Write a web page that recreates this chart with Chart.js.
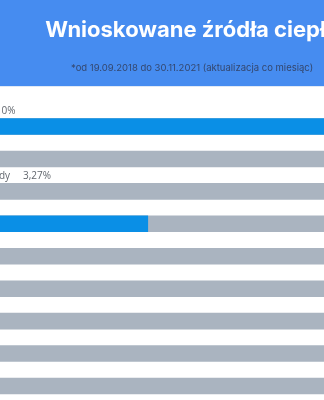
<!DOCTYPE html>
<html lang="pl">
<head>
<meta charset="utf-8">
<title>Wnioskowane źródła ciepła</title>
<script src="https://cdn.jsdelivr.net/npm/chart.js@4/dist/chart.umd.min.js"></script>
<style>
  html, body { margin: 0; padding: 0; background: #fff; overflow: hidden; width: 324px; height: 400px; }
  #wrap { position: absolute; left: -188px; top: 0; width: 760px; height: 404px; }
</style>
</head>
<body>
<div id="wrap"><canvas id="chart"></canvas></div>
<script>
// Heat sources requested in applications and their share (%)
const categories = [
  'Kocioł gazowy kondensacyjny',
  'Ogrzewanie elektryczne',
  'Pompa ciepła dla przygotowania wody',
  'Pompa ciepła',
  'Kocioł na pellet drzewny',
  'Kocioł zgazowujący drewno',
  'Sieć ciepłownicza',
  'Kocioł olejowy',
  'Kocioł na biomasę'
];
const shares = [45.10, 6.84, 3.27, 19.80, 9.12, 5.46, 4.38, 1.75, 1.21];
const shareLabels = shares.map(v => v.toFixed(2).replace('.', ',') + '%');
const titleText = 'Wnioskowane źródła ciepła';
const subtitleText = '*od 19.09.2018 do 30.11.2021 (aktualizacja co miesiąc)';

const maxShare = Math.max(...shares);
const trackValues = categories.map(() => maxShare);

const HEADER_BLUE = '#468cf0';
const BAR_BLUE = '#0a8fe6';
const TRACK_GREY = '#aab4c0';

// blue header band behind title and subtitle
const headerBand = {
  id: 'headerBand',
  beforeDraw(chart) {
    const { ctx, width } = chart;
    ctx.save();
    ctx.fillStyle = HEADER_BLUE;
    ctx.fillRect(0, 0, width, 86);
    ctx.fillStyle = '#dfe9f6';
    ctx.fillRect(0, 86, width, 1);
    ctx.restore();
  }
};

// name + percentage written above each bar
const rowLabels = {
  id: 'rowLabels',
  afterDatasetsDraw(chart) {
    const { ctx, chartArea } = chart;
    const meta = chart.getDatasetMeta(1);
    ctx.save();
    ctx.font = '10px "Open Sans", sans-serif';
    ctx.fillStyle = '#62676e';
    ctx.textBaseline = 'middle';
    ctx.textAlign = 'left';
    meta.data.forEach((bar, i) => {
      const y = bar.y - bar.height / 2 - 7;
      const x = chartArea.left;
      ctx.fillText(categories[i], x, y);
      const w = ctx.measureText(categories[i]).width;
      ctx.fillText(shareLabels[i], x + w + 13, y);
    });
    ctx.restore();
  }
};

new Chart(document.getElementById('chart'), {
  type: 'bar',
  data: {
    labels: categories,
    datasets: [
      {
        label: 'Udział',
        data: shares,
        backgroundColor: BAR_BLUE,
        borderWidth: 0,
        grouped: false,
        order: 0,
        categoryPercentage: 1,
        barPercentage: 0.51
      },
      {
        label: 'Tło',
        data: trackValues,
        backgroundColor: TRACK_GREY,
        borderWidth: 0,
        grouped: false,
        order: 1,
        categoryPercentage: 1,
        barPercentage: 0.51
      }
    ]
  },
  options: {
    indexAxis: 'y',
    responsive: true,
    maintainAspectRatio: false,
    animation: false,
    layout: { padding: { left: 20, right: 20, top: 0, bottom: 1.8 } },
    scales: {
      x: { display: false, min: 0, max: maxShare, grid: { display: false } },
      y: { display: false, grid: { display: false } }
    },
    plugins: {
      legend: { display: false },
      tooltip: { enabled: false },
      title: {
        display: true,
        text: titleText,
        color: '#ffffff',
        font: { family: 'Inter', size: 22, weight: 'bold' },
        padding: { top: 17, bottom: 10 }
      },
      subtitle: {
        display: true,
        text: subtitleText,
        color: '#34476e',
        font: { family: 'Inter', size: 9.5 },
        padding: { top: 8.9, bottom: 36.6 }
      }
    }
  },
  plugins: [headerBand, rowLabels]
});
</script>
</body>
</html>
